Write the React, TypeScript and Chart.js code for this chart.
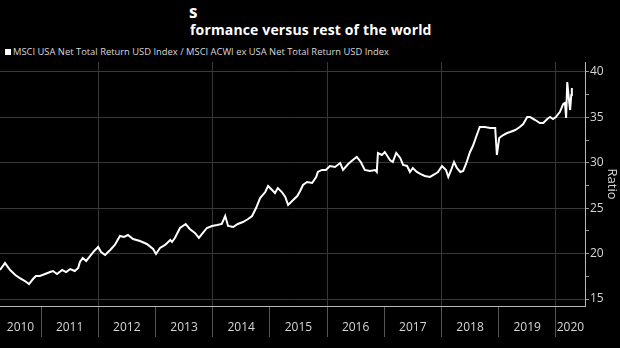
import React, { useEffect, useRef } from 'react';
import { Chart, registerables } from 'chart.js';

Chart.register(...registerables);

// Fractional-year dates of the sampled points
const years = [
  2010.283, 2010.37, 2010.46, 2010.55, 2010.63, 2010.72, 2010.79, 2010.86, 2010.91, 2010.98,
  2011.07, 2011.16, 2011.21, 2011.28, 2011.37, 2011.44, 2011.51, 2011.59, 2011.65, 2011.68,
  2011.73, 2011.79, 2011.86, 2011.93, 2012.0, 2012.05, 2012.12, 2012.21, 2012.29, 2012.38,
  2012.45, 2012.52, 2012.61, 2012.73, 2012.85, 2012.96, 2013.01, 2013.08, 2013.17, 2013.26,
  2013.29, 2013.34, 2013.43, 2013.53, 2013.6, 2013.69, 2013.76, 2013.83, 2013.9, 2013.99,
  2014.08, 2014.16, 2014.22, 2014.27, 2014.36, 2014.44, 2014.53, 2014.62, 2014.69, 2014.76,
  2014.83, 2014.92, 2014.97, 2015.04, 2015.09, 2015.14, 2015.21, 2015.27, 2015.32, 2015.39,
  2015.48, 2015.53, 2015.58, 2015.65, 2015.74, 2015.81, 2015.84, 2015.91, 2015.98, 2016.05,
  2016.14, 2016.23, 2016.28, 2016.37, 2016.45, 2016.52, 2016.59, 2016.66, 2016.75, 2016.84,
  2016.87, 2016.89, 2016.96, 2017.01, 2017.1, 2017.15, 2017.21, 2017.28, 2017.33, 2017.4,
  2017.45, 2017.5, 2017.57, 2017.63, 2017.71, 2017.8, 2017.89, 2017.94, 2018.01, 2018.08,
  2018.12, 2018.17, 2018.22, 2018.27, 2018.33, 2018.38, 2018.43, 2018.5, 2018.55, 2018.6,
  2018.67, 2018.76, 2018.85, 2018.94, 2018.97, 2019.01, 2019.08, 2019.15, 2019.2, 2019.29,
  2019.37, 2019.43, 2019.5, 2019.55, 2019.64, 2019.72, 2019.78, 2019.85, 2019.9, 2019.95,
  2020.0, 2020.07, 2020.13, 2020.16, 2020.18, 2020.2, 2020.23, 2020.25, 2020.27, 2020.28,
];

// MSCI USA NTR / MSCI ACWI ex USA NTR ratio
const ratio = [
  18.19, 18.96, 18.19, 17.64, 17.31, 16.98, 16.65, 17.2, 17.53, 17.53,
  17.75, 17.97, 18.08, 17.75, 18.19, 17.97, 18.3, 18.08, 18.41, 19.07,
  19.52, 19.19, 19.74, 20.29, 20.73, 20.18, 19.85, 20.4, 20.95, 21.94,
  21.83, 22.05, 21.61, 21.39, 21.06, 20.51, 19.96, 20.62, 20.95, 21.5,
  21.28, 21.72, 22.82, 23.26, 22.71, 22.27, 21.72, 22.27, 22.82, 23.04,
  23.15, 23.26, 24.14, 23.04, 22.93, 23.26, 23.48, 23.81, 24.14, 25.02,
  26.12, 26.78, 27.44, 27.0, 26.67, 27.22, 26.78, 26.23, 25.35, 25.79,
  26.34, 26.89, 27.56, 27.89, 27.78, 28.44, 28.99, 29.21, 29.21, 29.65,
  29.54, 29.98, 29.21, 29.87, 30.31, 30.64, 30.09, 29.21, 29.1, 29.21,
  28.99, 31.08, 30.86, 31.19, 30.31, 30.09, 31.08, 30.53, 29.76, 29.65,
  28.99, 29.43, 28.99, 28.77, 28.55, 28.44, 28.77, 28.99, 29.65, 29.21,
  28.44, 29.21, 30.09, 29.43, 28.99, 29.1, 29.87, 31.19, 31.85, 32.73,
  33.94, 33.94, 33.83, 33.83, 30.86, 32.73, 33.06, 33.28, 33.39, 33.61,
  33.94, 34.27, 35.04, 35.04, 34.71, 34.38, 34.38, 34.82, 35.04, 34.82,
  35.04, 35.59, 36.48, 36.59, 34.93, 38.9, 36.92, 35.81, 37.47, 38.24,
];

const X_MIN = 2010.283;
const X_MAX = 2020.51;
const yearBoundaries = [2011, 2012, 2013, 2014, 2015, 2016, 2017, 2018, 2019, 2020];
const yearLabels = ['2010', '2011', '2012', '2013', '2014', '2015', '2016', '2017', '2018', '2019', '2020'];
const yTicks = [15, 17.5, 20, 22.5, 25, 27.5, 30, 32.5, 35, 37.5, 40];
const Y_MIN = 14.23;
const Y_MAX = 41.1;

const GRID = '#383838';
const AXIS = '#b8b8b8';
const TEXT = '#d6d6d6';
const FONT = "'Open Sans', 'DejaVu Sans', sans-serif";

export default function App() {
  const ref = useRef<HTMLCanvasElement | null>(null);

  useEffect(() => {
    document.body.style.margin = '0';
    document.body.style.background = '#000';
    if (!ref.current) return;

    // label positions: centre of each (visible) year interval
    const edges = [X_MIN, ...yearBoundaries, X_MAX];
    const labelPos: number[] = [];
    for (let i = 0; i < edges.length - 1; i++) labelPos.push((edges[i] + edges[i + 1]) / 2);

    const chart = new Chart(ref.current, {
      type: 'line',
      data: {
        datasets: [
          {
            label: 'MSCI USA Net Total Return USD Index / MSCI ACWI ex USA Net Total Return USD Index',
            data: years.map((x, i) => ({ x, y: ratio[i] })),
            borderColor: '#ffffff',
            borderWidth: 2,
            pointRadius: 0,
            tension: 0,
            fill: false,
          },
        ],
      },
      options: {
        animation: false,
        responsive: false,
        maintainAspectRatio: false,
        layout: { padding: { top: 62, left: 0, right: 0, bottom: 0 } },
        plugins: { legend: { display: false }, title: { display: false }, tooltip: { enabled: false } },
        scales: {
          x: {
            type: 'linear',
            min: X_MIN,
            max: X_MAX,
            afterBuildTicks: (scale: any) => {
              const t: any[] = [];
              yearBoundaries.forEach((b) => t.push({ value: b }));
              labelPos.forEach((p) => t.push({ value: p }));
              t.sort((a, b) => a.value - b.value);
              scale.ticks = t;
            },
            afterFit: (scale: any) => {
              scale.height = 42;
            },
            border: { display: true, color: AXIS, width: 1 },
            grid: {
              drawOnChartArea: true,
              tickLength: 31,
              color: (ctx: any) => {
                const v = ctx.tick ? ctx.tick.value : 0;
                return Number.isInteger(v) && v % 2 === 0 ? GRID : 'rgba(0,0,0,0)';
              },
              tickColor: (ctx: any) => {
                const v = ctx.tick ? ctx.tick.value : 0;
                return Number.isInteger(v) ? '#555555' : 'rgba(0,0,0,0)';
              },
            },
            ticks: {
              autoSkip: false,
              maxRotation: 0,
              minRotation: 0,
              padding: -17,
              color: TEXT,
              font: { family: FONT, size: 12 },
              callback: (value: any) => {
                const v = Number(value);
                if (Number.isInteger(v)) return '';
                const idx = labelPos.findIndex((p) => Math.abs(p - v) < 1e-6);
                return idx >= 0 ? yearLabels[idx] : '';
              },
            },
          },
          y: {
            type: 'linear',
            position: 'right',
            min: Y_MIN,
            max: Y_MAX,
            afterBuildTicks: (scale: any) => {
              scale.ticks = yTicks.map((v) => ({ value: v }));
            },
            afterFit: (scale: any) => {
              scale.width = 35;
            },
            border: { display: true, color: AXIS, width: 1 },
            grid: {
              tickLength: 4,
              color: (ctx: any) => {
                const v = ctx.tick ? ctx.tick.value : 0;
                return v % 5 === 0 ? GRID : 'rgba(0,0,0,0)';
              },
              tickColor: '#9a9a9a',
            },
            ticks: {
              padding: 1,
              color: TEXT,
              font: { family: FONT, size: 12 },
              callback: (value: any) => (Number(value) % 5 === 0 ? String(value) : ''),
            },
            title: {
              display: true,
              text: 'Ratio',
              color: TEXT,
              font: { family: FONT, size: 13 },
              padding: 0,
            },
          },
        },
      },
    });
    return () => chart.destroy();
  }, []);

  return (
    <div
      style={{
        position: 'fixed',
        left: 0,
        top: 0,
        width: 620,
        height: 348,
        background: '#000',
        overflow: 'hidden',
      }}
    >
      <div
        style={{
          position: 'absolute',
          left: 189,
          top: 0,
          color: '#fff',
          fontFamily: FONT,
          fontWeight: 700,
          fontSize: 17,
          lineHeight: '24px',
        }}
      >
        s
      </div>
      <div
        style={{
          position: 'absolute',
          left: 190,
          top: 21,
          width: 241,
          overflow: 'hidden',
          whiteSpace: 'nowrap',
          color: '#fff',
          fontFamily: FONT,
          fontWeight: 700,
          fontSize: 14,
          letterSpacing: '0.15px',
          lineHeight: '18px',
        }}
      >
        formance versus rest of the world
      </div>
      <div
        style={{
          position: 'absolute',
          left: 5,
          top: 46,
          whiteSpace: 'nowrap',
          color: '#d8d8d8',
          fontFamily: FONT,
          fontSize: 9.4,
          lineHeight: '12px',
          display: 'flex',
          alignItems: 'center',
        }}
      >
        <span style={{ display: 'inline-block', width: 6, height: 6, background: '#fff', marginRight: 2 }} />
        MSCI USA Net Total Return USD Index / MSCI ACWI ex USA Net Total Return USD Index
      </div>
      <canvas ref={ref} width={620} height={348} style={{ position: 'absolute', left: 0, top: 0 }} />
    </div>
  );
}
